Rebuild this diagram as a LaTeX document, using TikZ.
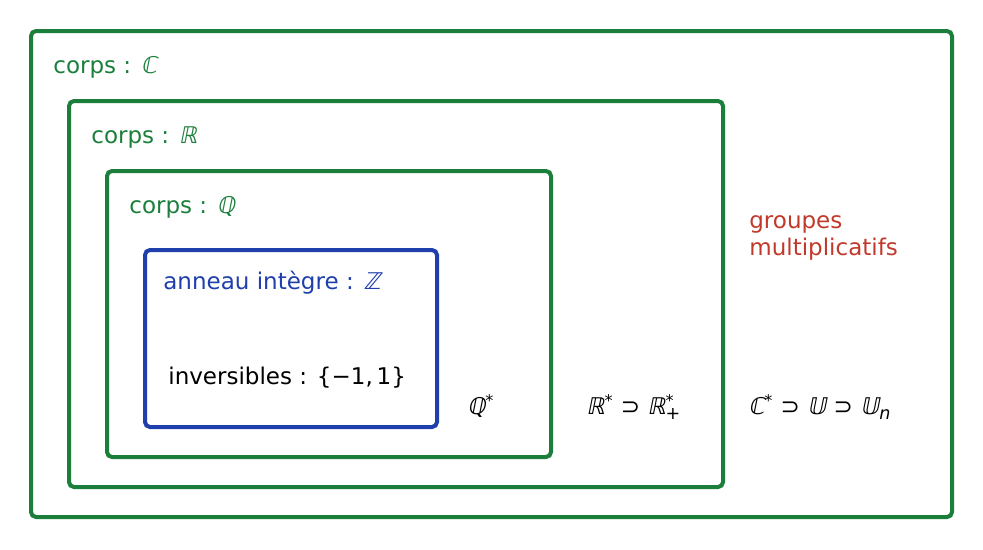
\documentclass[tikz,border=0pt]{standalone}
\usepackage{fontspec}
\setmainfont{DejaVu Sans}
\newfontfamily\bbfont[FakeSlant=0.2]{DejaVu Sans}
\definecolor{corpsgreen}{HTML}{1B7F3B}
\definecolor{anneaublue}{HTML}{1F3FAD}
\definecolor{groupred}{HTML}{C0392B}
\newcommand{\etoile}{\textsuperscript{*}}
\newcommand{\indice}[1]{\raisebox{-0.25em}{\fontsize{10}{12}\selectfont #1}}
\newcommand{\bb}[1]{{\bbfont #1}}

\begin{document}
\begin{tikzpicture}[x=0.02cm, y=-0.02cm,
	box/.style={line width=0.08cm, rounded corners=0.1cm},
	lbl/.style={anchor=base west, inner sep=0pt, font=\fontsize{13.1}{15.5}\selectfont}]
\useasboundingbox (0, 0) rectangle (983, 549);
\foreach \xa/\ya/\xb/\yb/\col in {31/31/952/517/corpsgreen, 69/101/723/487/corpsgreen, 107/171/551/457/corpsgreen, 145/250/437/427/anneaublue} {
	\draw[box, \col] (\xa, \ya) rectangle (\xb, \yb);
	};
\node[lbl, corpsgreen] (corpsC) at (53, 73) {corps : \bb{ℂ}};
\node[lbl, corpsgreen] (corpsR) at (91, 143) {corps : \bb{ℝ}};
\node[lbl, corpsgreen] (corpsQ) at (129, 213) {corps : \bb{ℚ}};
\node[lbl, anneaublue] (anneauZ) at (163, 289) {anneau intègre : \bb{ℤ}};
\node[lbl] (inversZ) at (168, 384) {inversibles : \{−1,\,1\}};
\node[lbl] (groupQ) at (467, 414) {\bb{ℚ}\etoile};
\node[lbl] (groupR) at (586, 414) {\bb{ℝ}\etoile{} ⊃ \bb{ℝ}\rlap{\etoile}\indice{+}};
\node[lbl] (groupC) at (748, 414) {\bb{ℂ}\etoile{} ⊃ \bb{𝕌} ⊃ \bb{𝕌}\indice{\textit{n}}};
\node[lbl, groupred, align=left, anchor=north west] (groupes) at (749, 215) {groupes\\multiplicatifs};
\end{tikzpicture}
\end{document}
